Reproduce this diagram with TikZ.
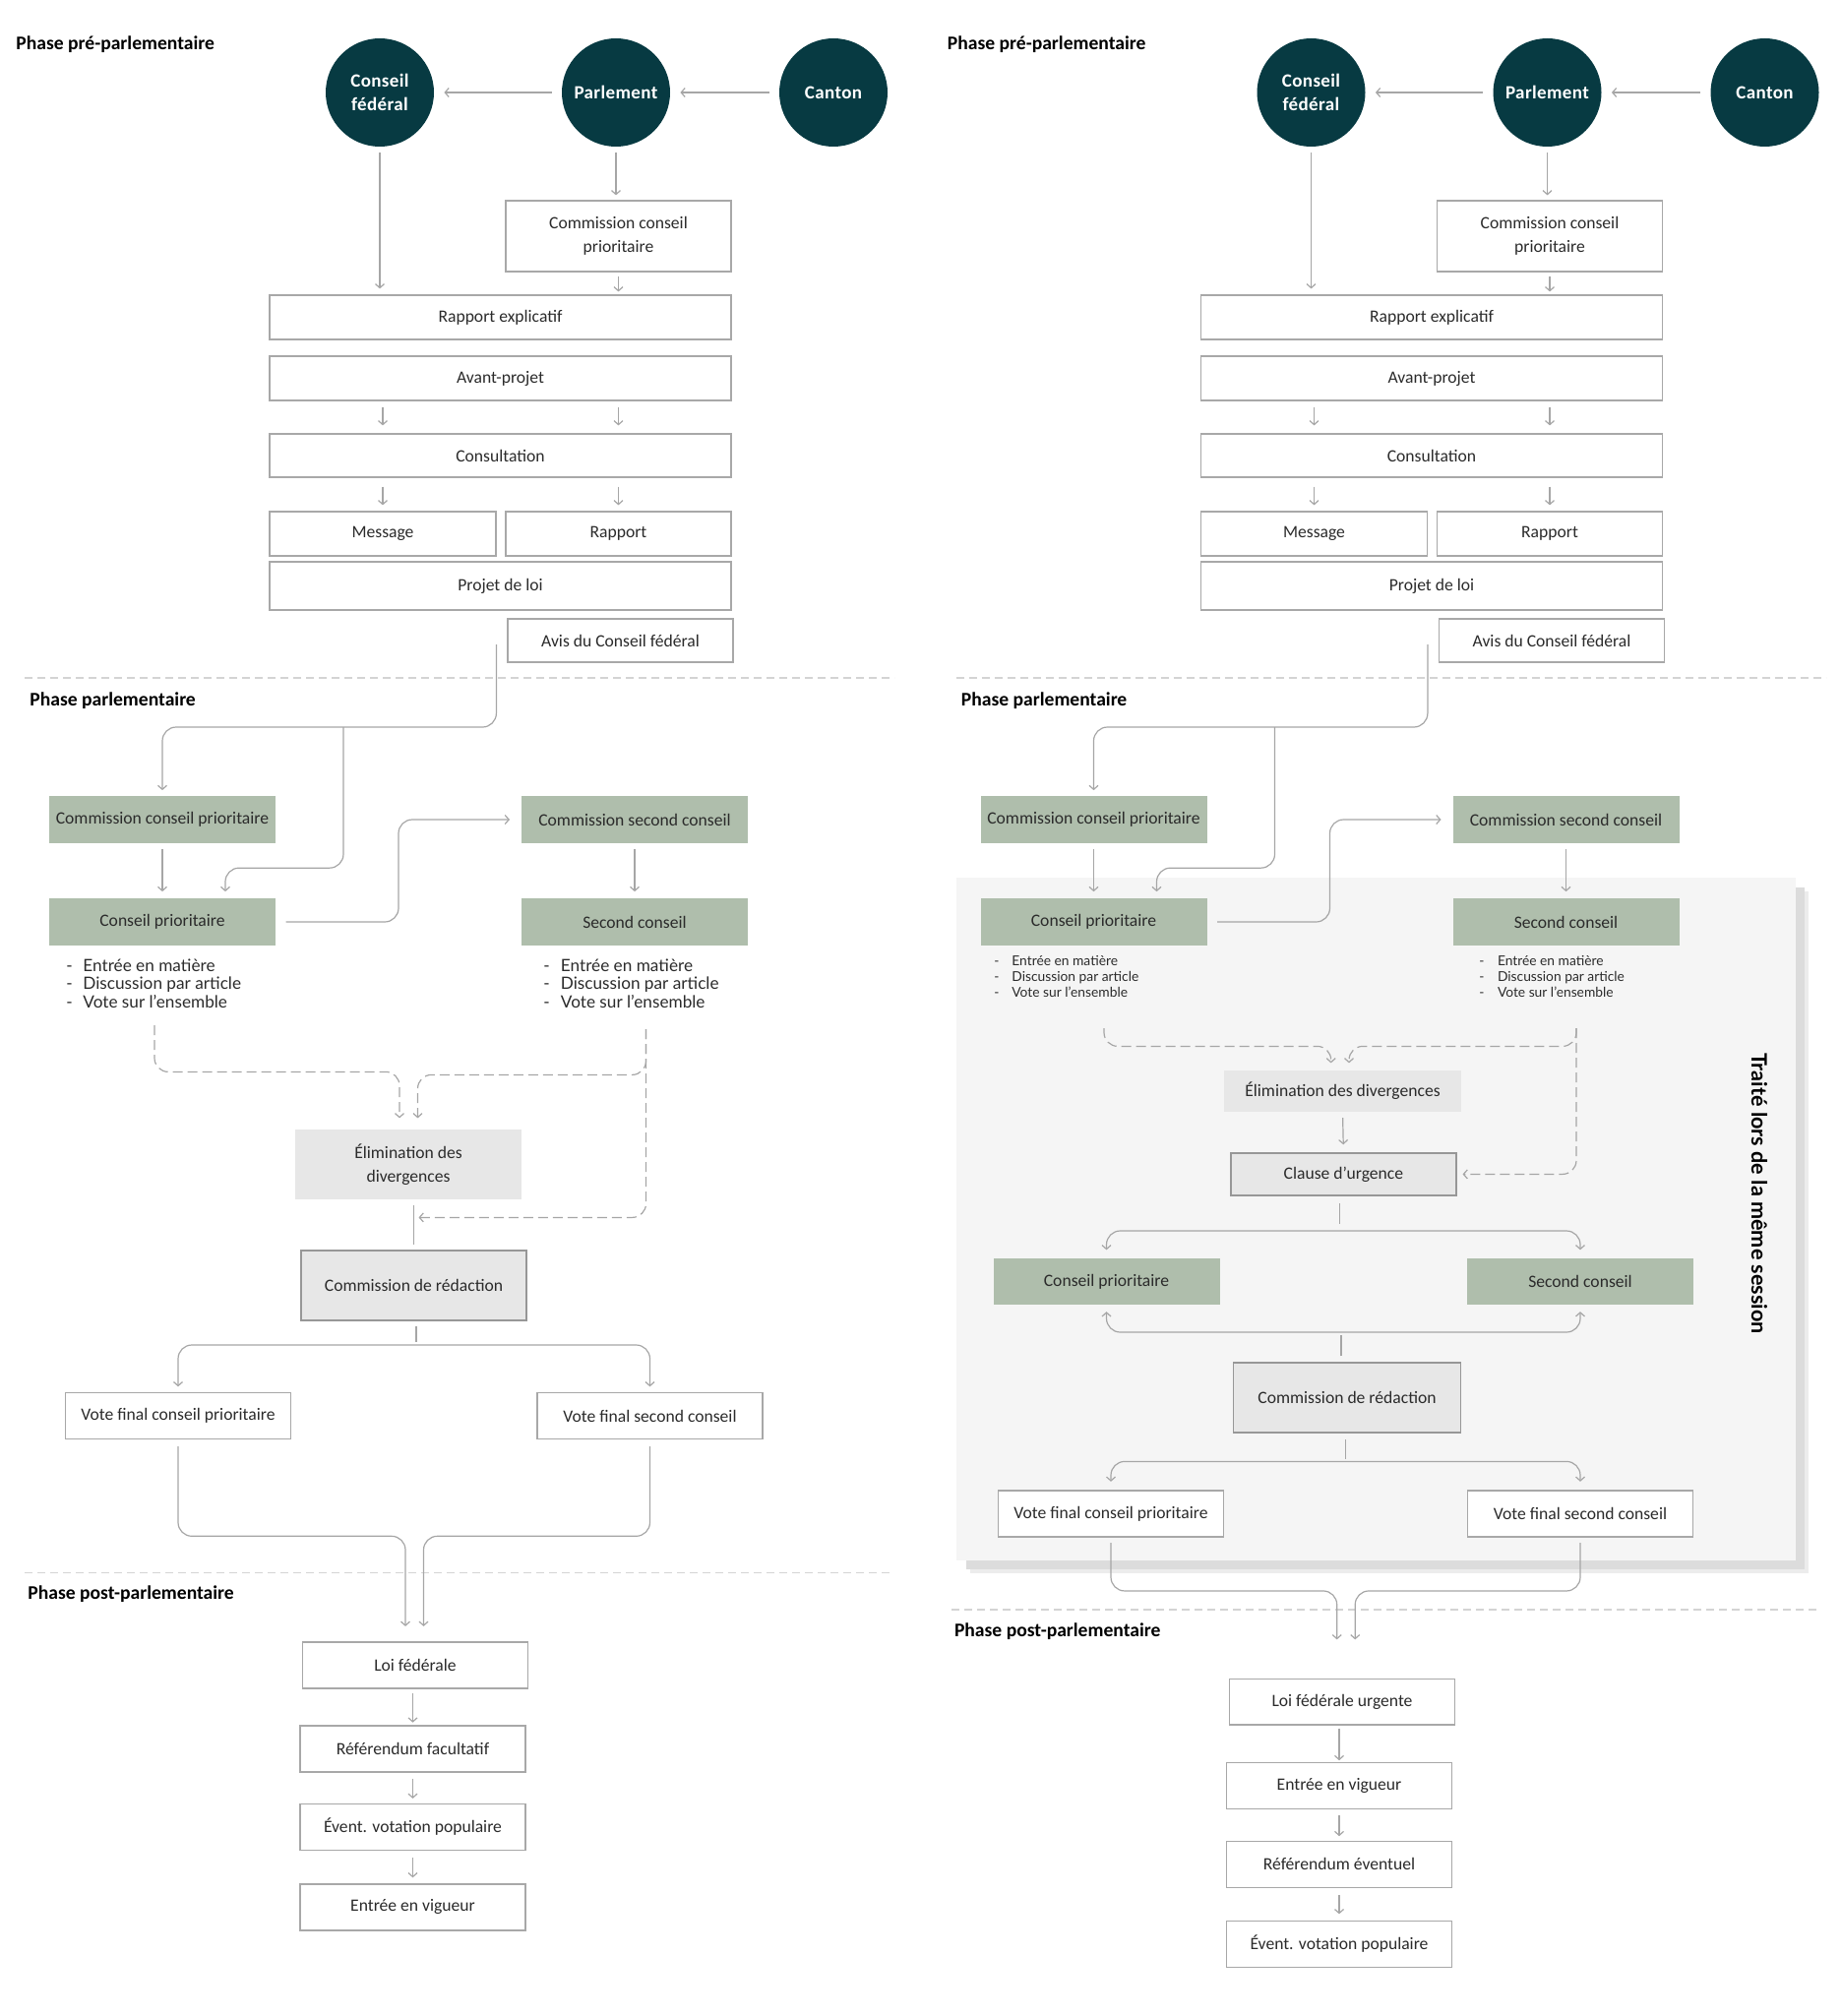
\documentclass[tikz,border=0pt]{standalone}
\usepackage{fontspec}
\setmainfont{Carlito}
\newfontfamily\listFont{Lato}
\newfontfamily\circleFont[LetterSpace=2]{Carlito}
\usepackage{tikz}
\usetikzlibrary{arrows.meta, calc}
\definecolor{tealDark}{HTML}{073A42}
\definecolor{sage}{HTML}{AFBEAC}
\definecolor{lineGray}{HTML}{A6A6A6}
\definecolor{boxLine}{HTML}{A8A8A8}
\definecolor{paleGray}{HTML}{E7E7E7}
\definecolor{panelGray}{HTML}{F5F5F5}
\definecolor{shadowGray}{HTML}{DCDCDC}
\definecolor{shadowSoft}{HTML}{ECECEC}
\definecolor{sepGray}{HTML}{D4D4D4}
\definecolor{textDark}{HTML}{2B2B2B}
\newcommand\panelShift{946.5}
\newcommand\stageW{114.5pt}
\newcommand\wideW{234.5pt}
\newcommand{\voteSteps}[1]{\makebox[#1][l]{-}Entrée en matière\\\makebox[#1][l]{-}Discussion par article\\\makebox[#1][l]{-}Vote sur l’ensemble}
\newcommand{\topStages}{
    \node[phase] (prePhase) at (16,45) {Phase pré-parlementaire};
    \node[actor] (cf) at (386,94) {Conseil\\fédéral};
    \node[actor] (parl) at (626,94) {Parlement};
    \node[actor] (canton) at (847,94) {Canton};
    \draw[conn, shorten <=5pt, shorten >=5pt] (parl.west) -- (cf.east);
    \draw[conn, shorten <=5pt, shorten >=5pt] (canton.west) -- (parl.east);

    \node[stage, minimum height=36pt] (ccpPre) at (628.5,240) {Commission conseil\\prioritaire};
    \node[stage, minimum width=\wideW] (rapExpl) at (508.5,322.5) {Rapport explicatif};
    \node[stage, minimum width=\wideW] (avantProjet) at (508.5,384.5) {Avant-projet};
    \node[stage, minimum width=\wideW, minimum height=22pt] (consult) at (508.5,463) {Consultation};
    \node[stage, minimum width=115pt] (message) at (389,542.5) {Message};
    \node[stage] (rapport) at (628.5,542.5) {Rapport};
    \node[stage, minimum width=\wideW, minimum height=24.5pt] (projetLoi) at (508.5,595.5) {Projet de loi};
    \node[stage, minimum height=22pt] (avis) at (630.5,651) {Avis du Conseil fédéral};

    \draw[conn, shorten <=3pt, shorten >=3pt] (cf.south) -- (cf.south |- rapExpl.north);
    \draw[conn, shorten <=3pt, shorten >=2.5pt] (parl.south) -- (parl.south |- ccpPre.north);
    \draw[conn, shorten <=2pt, shorten >=1.5pt] (ccpPre.south) -- (ccpPre.south |- rapExpl.north);
    \draw[conn, shorten <=3pt, shorten >=4pt] (message.north |- avantProjet.south) -- (message.north |- consult.north);
    \draw[conn, shorten <=3pt, shorten >=4pt] (rapport.north |- avantProjet.south) -- (rapport.north |- consult.north);
    \draw[conn, shorten <=4.5pt, shorten >=3pt] (message.north |- consult.south) -- (message.north);
    \draw[conn, shorten <=4.5pt, shorten >=3pt] (rapport.north |- consult.south) -- (rapport.north);

    \draw[phaseSep] (25,689) -- (909,689);
    \node[phase] (parlPhase) at (30,712) {Phase parlementaire};

    \node[chamber] (ccp) at (165,833) {Commission conseil prioritaire};
    \node[chamber] (cp) at (165,937) {Conseil prioritaire};
    \node[chamber] (csc) at (645,833) {Commission second conseil};
    \node[chamber] (sc) at (645,937) {Second conseil};

    \coordinate (avisOut) at ($(avis.west)+(-11,4)$);
    \coordinate (fork) at (349,739);
    \draw[conn, shorten >=2.5pt] (avisOut) |- (fork) -| (ccp.north);
    \draw[conn, shorten >=3pt] (fork) |- ($(cp.north)+(64,-30)$) -- ($(cp.north)+(64,0)$);
    \draw[conn, shorten <=2.75pt, shorten >=3pt] (ccp.south) -- (cp.north);
    \draw[conn, shorten <=5pt, shorten >=5.7pt] (cp.east) -| ($(cp.east)!0.5!(csc.west)$) |- (csc.west);
    \draw[conn, shorten <=2.75pt, shorten >=3pt] (csc.south) -- (sc.north);
}
\begin{document}
\begin{tikzpicture}[
    x=0.5pt, y=-0.5pt,
    every node/.style={text=textDark},
    phase/.style={anchor=west, inner sep=0pt, text=black, font=\bfseries\fontsize{9.8}{11}\selectfont},
    actor/.style={circle, fill=tealDark, minimum size=55pt, inner sep=0pt, align=center, text=white,
        font=\circleFont\bfseries\fontsize{9.5}{12}\selectfont},
    stage/.style={draw=boxLine, line width=0.6pt, fill=white, minimum width=\stageW, minimum height=22.5pt,
        inner sep=0pt, align=center, font=\fontsize{8.8}{12.3}\selectfont},
    chamber/.style={stage, draw=none, fill=sage, minimum width=115pt, minimum height=24.25pt},
    pale/.style={stage, draw=none, fill=paleGray},
    redaction/.style={stage, fill=paleGray, draw=boxLine!90!black},
    bigList/.style={anchor=west, inner sep=0pt, align=left, font=\listFont\fontsize{8.6}{9.15}\selectfont},
    smallList/.style={anchor=west, inner sep=0pt, align=left, font=\listFont\fontsize{6.9}{8.15}\selectfont},
    conn/.style={draw=lineGray, line width=0.6pt, rounded corners=7pt, -{Straight Barb[length=2pt,width=4.5pt]}},
    twoWay/.style={conn, {Straight Barb[length=2pt,width=4.5pt]}-{Straight Barb[length=2pt,width=4.5pt]}},
    link/.style={draw=lineGray, line width=0.6pt, rounded corners=7pt},
    dconn/.style={conn, dash pattern=on 5pt off 2.5pt},
    phaseSep/.style={draw=sepGray, line width=0.6pt, dash pattern=on 4pt off 2.5pt}
]
    \useasboundingbox (0,0) rectangle (1870,2049);

    \topStages

    \node[bigList] (cpList) at (67,999.5) {\voteSteps{8.5pt}};
    \node[bigList] (scList) at (552,999.5) {\voteSteps{8.75pt}};

    \node[pale, minimum width=115pt, minimum height=35.5pt] (elim) at (415,1183.5) {Élimination des\\divergences};
    \node[redaction, minimum height=35.5pt] (redac) at (420.5,1306.5) {Commission de rédaction};
    \node[stage, minimum height=23.5pt] (vfcp) at (181,1439) {Vote final conseil prioritaire};
    \node[stage, minimum height=23.5pt] (vfsc) at (660.5,1439) {Vote final second conseil};

    \coordinate (cpOut) at (157,1042);
    \coordinate (scOut) at (656.5,1046);
    \draw[dconn, shorten >=5.5pt] (cpOut) |- ($(elim.north)+(-9,-58)$) -- ($(elim.north)+(-9,0)$);
    \draw[dconn, shorten >=5.5pt] (scOut) |- ($(elim.north)+(9.5,-55)$) -- ($(elim.north)+(9.5,0)$);
    \draw[dconn] (scOut) |- ($(redac.north)+(5,-33)$);
    \draw[link, shorten <=2.5pt, shorten >=2.5pt] (redac.north |- elim.south) -- (redac.north);

    \coordinate (redacDrop) at (423,1367);
    \draw[link, shorten <=2.5pt] (redacDrop |- redac.south) -- ($(redacDrop)+(0,-3.5)$);
    \draw[twoWay, shorten <=2.8pt, shorten >=2.8pt] (vfcp.north) |- (redacDrop) -| (vfsc.north);

    \draw[phaseSep] (25,1598.6) -- (908,1598.6);
    \node[phase] (postPhase) at (28,1620) {Phase post-parlementaire};

    \node[stage, minimum height=23.5pt] (loi) at (422,1692.4) {Loi fédérale};
    \node[stage, minimum height=23.5pt] (refFac) at (419.5,1777.4) {Référendum facultatif};
    \node[stage, minimum height=23.5pt] (votPop) at (419.5,1857) {Évent. votation populaire};
    \node[stage, minimum height=23.5pt] (vigueur) at (419.5,1938.4) {Entrée en vigueur};

    \draw[conn, shorten <=3.5pt, shorten >=7.7pt] (vfcp.south) |- ($(loi.north)+(-10,-107)$) -- ($(loi.north)+(-10,0)$);
    \draw[conn, shorten <=3.5pt, shorten >=7.7pt] (vfsc.south) |- ($(loi.north)+(8.5,-107)$) -- ($(loi.north)+(8.5,0)$);
    \draw[conn, shorten <=2pt, shorten >=1.3pt] (refFac.north |- loi.south) -- (refFac.north);
    \draw[conn, shorten <=3pt, shorten >=2.5pt] (refFac.south) -- (votPop.north);
    \draw[conn, shorten <=3.5pt, shorten >=3pt] (votPop.south) -- (vigueur.north);

    \fill[shadowSoft] (986,906) rectangle (1838,1599);
    \fill[shadowGray] (982,902) rectangle (1834,1595);
    \fill[panelGray] (972,892.4) rectangle (1824.5,1585.7);

    \begin{scope}[shift={(\panelShift,0)}, name prefix=u-]
        \topStages
    \end{scope}

    \node[smallList] (cpListU) at (1010,992.4) {\voteSteps{9pt}};
    \node[smallList] (scListU) at (1503,992.4) {\voteSteps{9.3pt}};

    \node[pale, minimum width=120.5pt, minimum height=21pt] (elimU) at (1364.5,1108.5) {Élimination des divergences};
    \node[redaction, minimum height=21.5pt] (clause) at (1365.4,1193.4) {Clause d’urgence};
    \node[chamber, minimum height=23.75pt] (cpU) at (1124.5,1302.3) {Conseil prioritaire};
    \node[chamber, minimum height=23.75pt] (scU) at (1606,1302.3) {Second conseil};
    \node[redaction, minimum width=115.5pt, minimum height=35.5pt] (redacU) at (1369,1420.5) {Commission de rédaction};
    \node[stage, minimum height=23.5pt] (vfcpU) at (1129,1538.5) {Vote final conseil prioritaire};
    \node[stage, minimum height=23.5pt] (vfscU) at (1606,1538.5) {Vote final second conseil};
    \node[rotate=-90, inner sep=0pt, text=black, font=\listFont\bfseries\fontsize{10.8}{12}\selectfont] (session) at (1788,1213) {Traité lors de la même session};

    \coordinate (cpOutU) at (1122,1045);
    \coordinate (scOutU) at (1602,1045);
    \draw[dconn, shorten >=3.25pt] (cpOutU) |- ($(elimU.north)+(-11.8,-23.5)$) -- ($(elimU.north)+(-11.8,0)$);
    \draw[dconn, shorten >=3.25pt] (scOutU) |- ($(elimU.north)+(6.5,-23.5)$) -- ($(elimU.north)+(6.5,0)$);
    \draw[dconn, shorten >=3pt] (scOutU) |- (clause.east);
    \draw[conn, shorten <=3pt, shorten >=4pt] (elimU.south) -- (clause.north);

    \coordinate (clauseDrop) at (1361.7,1251);
    \draw[link, shorten <=3.65pt] (clauseDrop |- clause.south) -- ($(clauseDrop)+(0,-7)$);
    \draw[twoWay, shorten <=3.8pt, shorten >=3.8pt] (cpU.north) |- (clauseDrop) -| (scU.north);
    \coordinate (redacRise) at (1363,1354);
    \draw[link, shorten <=3pt] (redacRise |- redacU.north) -- ($(redacRise)+(0,3)$);
    \draw[twoWay, shorten <=3.25pt, shorten >=3.25pt] (cpU.south) |- (redacRise) -| (scU.south);
    \coordinate (redacDropU) at (1367.7,1485.4);
    \draw[link, shorten <=3.2pt] (redacDropU |- redacU.south) -- ($(redacDropU)+(0,-2.4)$);
    \draw[twoWay, shorten <=4.3pt, shorten >=4.3pt] (vfcpU.north) |- (redacDropU) -| (vfscU.north);

    \draw[phaseSep] (967,1636) -- (1850,1636);
    \node[phase] (postPhaseU) at (969.6,1658) {Phase post-parlementaire};

    \node[stage, minimum height=23.25pt] (loiU) at (1364,1729.8) {Loi fédérale urgente};
    \node[stage, minimum height=23.5pt] (vigueurU) at (1361,1814.7) {Entrée en vigueur};
    \node[stage, minimum height=23.5pt] (refEv) at (1361,1894.7) {Référendum éventuel};
    \node[stage, minimum height=23.5pt] (votPopU) at (1361,1975.8) {Évent. votation populaire};

    \draw[conn, shorten <=2.8pt, shorten >=19.8pt] (vfcpU.south) |- ($(loiU.north)+(-5.3,-89)$) -- ($(loiU.north)+(-5.3,0)$);
    \draw[conn, shorten <=2.8pt, shorten >=19.8pt] (vfscU.south) |- ($(loiU.north)+(13.2,-89)$) -- ($(loiU.north)+(13.2,0)$);
    \draw[conn, shorten <=1.5pt, shorten >=0.7pt] (vigueurU.north |- loiU.south) -- (vigueurU.north);
    \draw[conn, shorten <=3pt, shorten >=2.2pt] (vigueurU.south) -- (refEv.north);
    \draw[conn, shorten <=3.5pt, shorten >=3.2pt] (refEv.south) -- (votPopU.north);
\end{tikzpicture}
\end{document}
